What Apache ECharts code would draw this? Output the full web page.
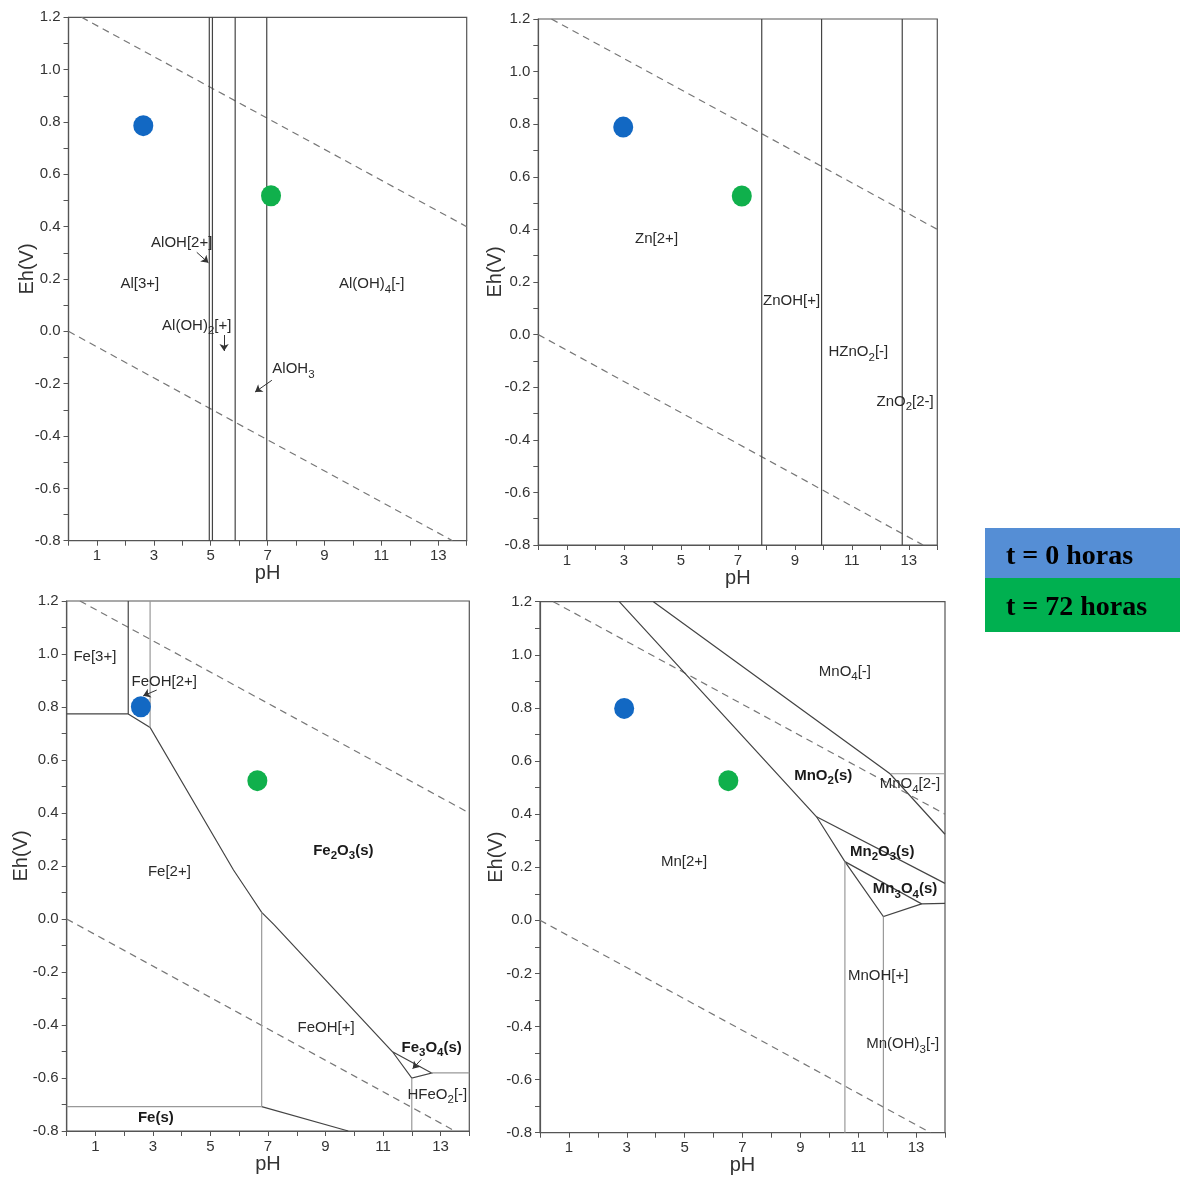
<!DOCTYPE html>
<html><head><meta charset="utf-8">
<script src="https://cdn.jsdelivr.net/npm/echarts@6/dist/echarts.min.js"></script>
<style>html,body{margin:0;padding:0;background:#fff;}#c{width:1181px;height:1178px;}</style>
</head><body><div id="c"></div>
<script>
// ---------- data ----------
const xLabelValues = [1, 3, 5, 7, 9, 11, 13];
const yLabelValues = [-0.8, -0.6, -0.4, -0.2, 0.0, 0.2, 0.4, 0.6, 0.8, 1.0, 1.2];

const waterUpper = [[0.46, 1.2], [14, 0.40]];
const waterLower = [[0, 0], [13.5, -0.8]];

const blueDots = [[2.63, 0.786], [2.98, 0.789], [2.58, 0.801], [2.91, 0.798]];
const greenDots = [[7.12, 0.518], [7.14, 0.527], [6.63, 0.522], [6.51, 0.526]];

// Al
const alBoundaries = [
  [[4.95, -0.8], [4.95, 1.2]],
  [[5.06, -0.8], [5.06, 1.2]],
  [[5.86, -0.8], [5.86, 1.2]],
  [[6.97, -0.8], [6.97, 1.2]]
];
const alBoundariesLight = [];
const alLabels = [
  ['AlOH[2+]', 3.98, 0.333, 0],
  ['Al[3+]', 2.51, 0.177, 0],
  ['Al(OH)_4[-]', 10.66, 0.177, 0],
  ['Al(OH)_2[+]', 4.51, 0.018, 0],
  ['AlOH_3', 7.91, -0.148, 0]
];
const alArrows = [
  [[4.51, 0.302], [4.92, 0.262]],
  [[5.47, -0.014], [5.47, -0.075]],
  [[7.15, -0.187], [6.56, -0.232]]
];

// Zn
const znBoundaries = [
  [[7.84, -0.8], [7.84, 1.2]],
  [[9.94, -0.8], [9.94, 1.2]],
  [[12.77, -0.8], [12.77, 1.2]]
];
const znBoundariesLight = [];
const znLabels = [
  ['Zn[2+]', 4.15, 0.362, 0],
  ['ZnOH[+]', 8.89, 0.125, 0],
  ['HZnO_2[-]', 11.23, -0.071, 0],
  ['ZnO_2[2-]', 12.87, -0.259, 0]
];
const znArrows = [];

// Fe
const feBoundaries = [
  [[0, 0.774], [2.14, 0.774], [2.14, 1.2]],
  [[2.14, 0.774], [2.90, 0.723], [5.8, 0.185], [6.31, 0.102], [6.78, 0.025], [7.2, -0.02], [11.33, -0.501], [12.0, -0.600], [12.69, -0.581], [11.33, -0.501]],
  [[6.78, -0.708], [9.79, -0.8]]
];
const feBoundariesLight = [
  [[2.90, 1.2], [2.90, 0.723]],
  [[6.78, 0.025], [6.78, -0.708]],
  [[0, -0.708], [6.78, -0.708]],
  [[12.0, -0.600], [12.0, -0.8]],
  [[12.69, -0.581], [14, -0.581]]
];
const feLabels = [
  ['Fe[3+]', 0.98, 0.984, 0],
  ['FeOH[2+]', 3.39, 0.892, 0],
  ['Fe_2O_3(s)', 9.62, 0.254, 1],
  ['Fe[2+]', 3.57, 0.175, 0],
  ['FeOH[+]', 9.02, -0.415, 0],
  ['Fe_3O_4(s)', 12.69, -0.489, 1],
  ['HFeO_2[-]', 12.89, -0.666, 0],
  ['Fe(s)', 3.1, -0.756, 1]
];
const feArrows = [
  [[3.13, 0.864], [2.66, 0.842]],
  [[12.33, -0.530], [12.03, -0.565]]
];

// Mn
const mnBoundaries = [
  [[3.92, 1.2], [12.1, 0.552], [14, 0.324]],
  [[2.74, 1.2], [9.56, 0.390], [10.54, 0.221], [11.87, 0.014], [13.19, 0.062]],
  [[9.56, 0.390], [14, 0.139]],
  [[10.54, 0.221], [13.19, 0.062], [14, 0.064]]
];
const mnBoundariesLight = [
  [[12.1, 0.552], [14, 0.552]],
  [[10.54, 0.221], [10.54, -0.8]],
  [[11.87, 0.014], [11.87, -0.8]]
];
const mnLabels = [
  ['MnO_4[-]', 10.54, 0.933, 0],
  ['MnO_2(s)', 9.79, 0.541, 1],
  ['MnO_4[2-]', 12.79, 0.510, 0],
  ['Mn_2O_3(s)', 11.83, 0.255, 1],
  ['Mn[2+]', 4.98, 0.215, 0],
  ['Mn_3O_4(s)', 12.62, 0.114, 1],
  ['MnOH[+]', 11.69, -0.212, 0],
  ['Mn(OH)_3[-]', 12.54, -0.470, 0]
];
const mnArrows = [];

const legendItems = ['t = 0 horas', 't = 72 horas'];

// ---------- layout ----------
const FONT = '"Liberation Sans", Arial, sans-serif';
const panels = [
  { grid: { left: 68.5, top: 17.3, width: 398.2, height: 523.4 }, gapY: 31, b: alBoundaries, bl: alBoundariesLight, l: alLabels, a: alArrows },
  { grid: { left: 538.3, top: 19, width: 399, height: 526 }, gapY: 33, b: znBoundaries, bl: znBoundariesLight, l: znLabels, a: znArrows },
  { grid: { left: 66.7, top: 601, width: 402.6, height: 530 }, gapY: 35, b: feBoundaries, bl: feBoundariesLight, l: feLabels, a: feArrows },
  { grid: { left: 540, top: 601.7, width: 405, height: 531 }, gapY: 34, b: mnBoundaries, bl: mnBoundariesLight, l: mnLabels, a: mnArrows }
];

function toRich(s, bold) {
  const n = bold ? 'nb' : 'n', sb = bold ? 'sb' : 's';
  return '{' + n + '|' + s.replace(/_(\d)/g, '}{' + sb + '|$1}{' + n + '|') + '}';
}
const rich = {
  n: { fontSize: 15, fontFamily: FONT, color: '#2a2a2a', lineHeight: 17, verticalAlign: 'top' },
  s: { fontSize: 11.5, fontFamily: FONT, color: '#2a2a2a', lineHeight: 12, padding: [7, 0, 0, 0], verticalAlign: 'top' },
  nb: { fontSize: 15, fontFamily: FONT, color: '#1a1a1a', fontWeight: 'bold', lineHeight: 17, verticalAlign: 'top' },
  sb: { fontSize: 11.5, fontFamily: FONT, color: '#1a1a1a', fontWeight: 'bold', lineHeight: 12, padding: [7, 0, 0, 0], verticalAlign: 'top' }
};

const axisColor = '#555';
const grids = [], xAxes = [], yAxes = [], series = [];
panels.forEach((p, i) => {
  grids.push(Object.assign({ show: true, borderColor: axisColor, borderWidth: 1.2, containLabel: false }, p.grid));
  xAxes.push({
    type: 'value', gridIndex: i, min: 0, max: 14, interval: 1,
    name: 'pH', nameLocation: 'middle', nameGap: 23, nameMoveOverlap: false,
    nameTextStyle: { fontSize: 20, color: '#333', fontFamily: FONT },
    axisLine: { show: true, onZero: false, lineStyle: { color: axisColor, width: 1.2 } },
    axisTick: { show: true, length: 5, lineStyle: { color: axisColor, width: 1 } },
    axisLabel: { fontSize: 15, color: '#333', fontFamily: FONT, margin: 8,
      formatter: v => { const r = Math.round(v); return (Math.abs(v - r) < 1e-6 && xLabelValues.includes(r)) ? String(r) : ''; } },
    splitLine: { show: false }
  });
  yAxes.push({
    type: 'value', gridIndex: i, min: -0.8, max: 1.2, interval: 0.1,
    name: 'Eh(V)', nameLocation: 'middle', nameGap: p.gapY, nameRotate: 90, nameMoveOverlap: false,
    nameTextStyle: { fontSize: 20, color: '#333', fontFamily: FONT, padding: [0, 0, 0, 20] },
    axisLine: { show: true, onZero: false, lineStyle: { color: axisColor, width: 1.2 } },
    axisTick: { show: true, length: 5, lineStyle: { color: axisColor, width: 1 } },
    axisLabel: { fontSize: 15, color: '#333', fontFamily: FONT, margin: 8,
      formatter: v => yLabelValues.some(t => Math.abs(t - v) < 1e-6) ? v.toFixed(1) : '' },
    splitLine: { show: false }
  });
  const base = { coordinateSystem: 'cartesian2d', xAxisIndex: i, yAxisIndex: i, silent: true };
  series.push(Object.assign({ type: 'lines', polyline: true, z: 2,
    lineStyle: { color: '#777', width: 1.2, type: [7, 5], opacity: 1 },
    data: [{ coords: waterUpper }, { coords: waterLower }] }, base));
  series.push(Object.assign({ type: 'lines', polyline: true, z: 3,
    lineStyle: { color: '#444', width: 1.2, opacity: 1 },
    data: p.b.map(c => ({ coords: c })) }, base));
  if (p.bl.length) series.push(Object.assign({ type: 'lines', polyline: true, z: 3,
    lineStyle: { color: '#999', width: 1.2, opacity: 1 },
    data: p.bl.map(c => ({ coords: c })) }, base));
  if (p.a.length) series.push(Object.assign({ type: 'lines', polyline: false, z: 4,
    symbol: ['none', 'arrow'], symbolSize: 7,
    lineStyle: { color: '#333', width: 1, opacity: 1 },
    data: p.a.map(c => ({ coords: c })) }, base));
  series.push({ type: 'scatter', xAxisIndex: i, yAxisIndex: i, silent: true, z: 6,
    symbolSize: 1, itemStyle: { color: 'rgba(0,0,0,0)' },
    label: { show: true, position: 'inside', color: '#2a2a2a', opacity: 1, textBorderWidth: 0,
      formatter: q => toRich(q.name, q.data.bold), rich: rich },
    labelLayout: { hideOverlap: false },
    data: p.l.map(l => ({ name: l[0], value: [l[1], l[2]], bold: !!l[3] })) });
  series.push({ type: 'scatter', xAxisIndex: i, yAxisIndex: i, silent: true, z: 8,
    symbolSize: [20, 21], itemStyle: { color: '#1268c3', opacity: 1 }, data: [blueDots[i]] });
  series.push({ type: 'scatter', xAxisIndex: i, yAxisIndex: i, silent: true, z: 8,
    symbolSize: [20, 21], itemStyle: { color: '#10b04c', opacity: 1 }, data: [greenDots[i]] });
});

const chart = echarts.init(document.getElementById('c'), null, { renderer: 'canvas' });
chart.setOption({
  backgroundColor: '#fff',
  animation: false,
  grid: grids, xAxis: xAxes, yAxis: yAxes, series: series,
  graphic: [
    { type: 'rect', shape: { x: 985, y: 528, width: 195, height: 50 }, style: { fill: '#558ED5' } },
    { type: 'rect', shape: { x: 985, y: 578, width: 195, height: 54 }, style: { fill: '#00B050' } },
    { type: 'text', x: 1006, y: 557, style: { text: legendItems[0], fill: '#000', font: 'bold 28px "Liberation Serif", "Times New Roman", serif', textAlign: 'left', textVerticalAlign: 'middle' } },
    { type: 'text', x: 1006, y: 608, style: { text: legendItems[1], fill: '#000', font: 'bold 28px "Liberation Serif", "Times New Roman", serif', textAlign: 'left', textVerticalAlign: 'middle' } }
  ]
});
</script></body></html>
